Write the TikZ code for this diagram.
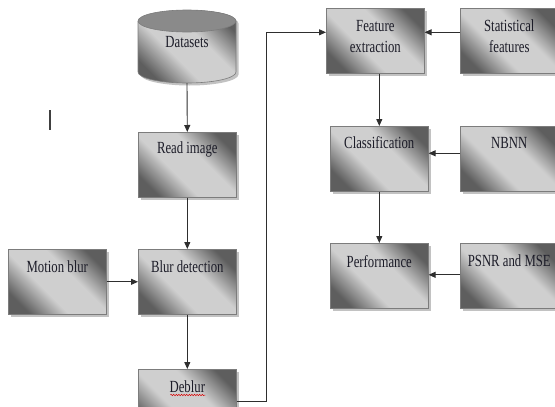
\documentclass[tikz,border=0pt]{standalone}
\usepackage{fontspec}
\setmainfont{Liberation Serif}[FakeStretch=0.75]
\usetikzlibrary{shadows,arrows.meta,decorations.pathmorphing}

\definecolor{boxdark}{HTML}{5E5E5E}
\definecolor{boxlight}{HTML}{CFCFCF}
\definecolor{rim}{HTML}{7C7C7C}
\definecolor{lidgray}{HTML}{8A8A8A}
\definecolor{wire}{HTML}{2E2E2E}
\definecolor{inktext}{HTML}{1C1C28}

% diagonal metallic fill: dark corners, soft light band across the middle
\pgfdeclarehorizontalshading{boxgrad}{100bp}{color(0bp)=(boxdark); color(24bp)=(boxdark); color(41bp)=(boxlight); color(59bp)=(boxlight); color(76bp)=(boxdark); color(100bp)=(boxdark)}

\tikzset{
  boxshade/.style={shading=boxgrad, shading angle=45},
  boxshadow/.style={drop shadow={shadow xshift=2.5pt, shadow yshift=-2.5pt, fill=black!40, opacity=0.6}},
  stepbox/.style={rectangle, draw=rim, line width=0.6pt, minimum width=98pt, minimum height=65pt,
                  inner sep=0pt, anchor=north west, boxshade, boxshadow},
  lbl/.style={font=\fontsize{17}{21}\selectfont, text=inktext, align=center, anchor=base, inner sep=0pt},
  wire/.style={draw=wire, line width=0.9pt, -{Triangle[length=7pt,width=6pt]}}
}

\begin{document}
\begin{tikzpicture}[x=1pt,y=1pt]
\useasboundingbox (0,0) rectangle (555,-407);

% Datasets cylinder
\path[boxshadow, boxshade] (138,-21) -- (138,-72)
  arc[start angle=180,end angle=360,x radius=49,y radius=11] -- (236,-21)
  arc[start angle=0,end angle=180,x radius=49,y radius=11] -- cycle;
\draw[rim, line width=0.6pt] (138,-21) -- (138,-72)
  arc[start angle=180,end angle=360,x radius=49,y radius=11] -- (236,-21);
\draw[rim, line width=0.6pt, fill=lidgray] (187,-21) ellipse[x radius=49,y radius=11];
\node[inner sep=0pt, minimum width=98pt, minimum height=74pt] (data) at (187,-46) {};
\node[lbl] (dataT) at (187,-47) {Datasets};

% left column
\node[stepbox] (read)   at (138,-132) {};
\node[stepbox] (blur)   at (138,-249) {};
\node[stepbox] (deblur) at (138,-369) {};
\node[stepbox] (motion) at (8,-249) {};

% right columns
\node[stepbox] (feat)  at (326,-8) {};
\node[stepbox] (stat)  at (460,-8) {};
\node[stepbox] (class) at (330,-126) {};
\node[stepbox] (nbnn)  at (460,-126) {};
\node[stepbox] (perf)  at (330,-243) {};
\node[stepbox] (psnr)  at (460,-243) {};

% labels (multi-line labels sit on the baseline of their last line)
\node[lbl] (readT)   at ([yshift=-21pt]read.north)   {Read image};
\node[lbl] (blurT)   at ([yshift=-23pt]blur.north)   {Blur detection};
\node[lbl] (deblurT) at ([yshift=-23pt]deblur.north) {Deblur};
\node[lbl] (motionT) at ([yshift=-23pt]motion.north) {Motion blur};
\node[lbl] (featT)   at ([yshift=-44pt]feat.north)   {Feature\\extraction};
\node[lbl] (statT)   at ([yshift=-44pt]stat.north)   {Statistical\\features};
\node[lbl] (classT)  at ([yshift=-22pt]class.north)  {Classification};
\node[lbl] (nbnnT)   at ([yshift=-22pt]nbnn.north)   {NBNN};
\node[lbl] (perfT)   at ([yshift=-24pt]perf.north)   {Performance};
\node[lbl] (psnrT)   at ([yshift=-23pt]psnr.north)   {PSNR and MSE};

% spell-check squiggle under "Deblur"
\draw[red!85!black, line width=0.5pt, decorate, decoration={snake, amplitude=0.7pt, segment length=2.6pt}]
  ([xshift=-17pt,yshift=-3pt]deblurT.base) -- ([xshift=18pt,yshift=-3pt]deblurT.base);

% text cursor
\draw[line width=1.5pt, black!75] (50,-110) -- (50,-130);

% connectors
\draw[wire] (data.south) -- (read.north);
\draw[wire] (read.south) -- (blur.north);
\draw[wire] (blur.south) -- (deblur.north);
\draw[wire] (motion.east) -- (blur.west);
\draw[wire] (deblur.east) -- ++(30,0) |- ([yshift=8.5pt]feat.west);
\draw[wire] ([yshift=8.5pt]stat.west) -- ([yshift=8.5pt]feat.east);
\draw[wire] (feat.south -| class.north) -- (class.north);
\draw[wire] ([yshift=5.5pt]nbnn.west) -- ([yshift=5.5pt]class.east);
\draw[wire] (class.south) -- (perf.north);
\draw[wire] ([yshift=1pt]psnr.west) -- ([yshift=1pt]perf.east);
\end{tikzpicture}
\end{document}
